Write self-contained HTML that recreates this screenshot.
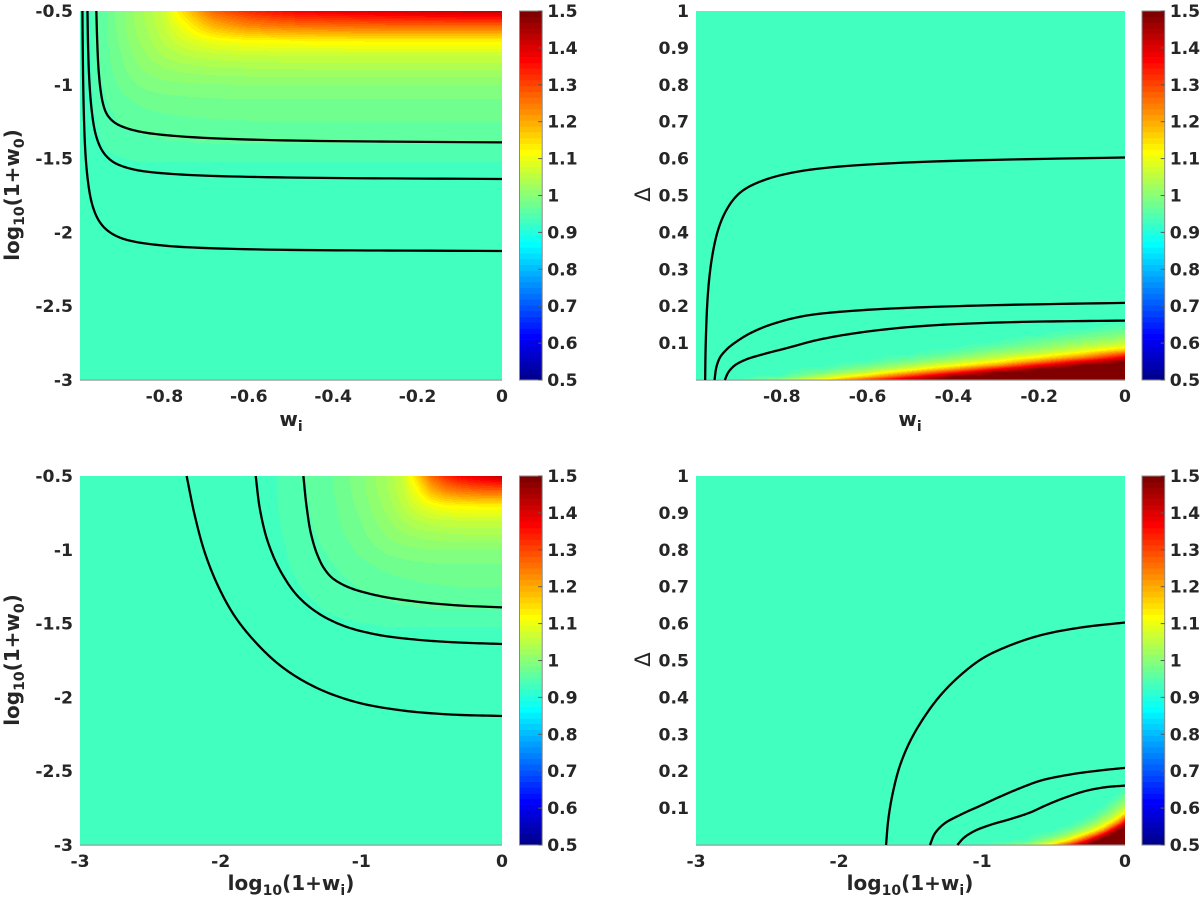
<!DOCTYPE html>
<html lang="en">
<head>
<meta charset="utf-8">
<title>Heatmap panels with contours</title>
<style>
html,body{margin:0;padding:0;background:#fff;}
svg{display:block;}
text{font-family:"DejaVu Sans","Liberation Sans",sans-serif;font-weight:bold;fill:#262626;}
.tick{font-size:17.2px;}
.title{font-size:20px;}
.delta{font-size:21px;font-weight:normal;}
</style>
</head>
<body>
<svg id="figure" xmlns="http://www.w3.org/2000/svg" width="1200" height="904" viewBox="0 0 1200 904">
  <rect x="0" y="0" width="1200" height="904" fill="#fff"/>
  <text class="title" x="291" y="426" text-anchor="middle">w<tspan dy="5" font-size="14">i</tspan></text>
  <text class="title" x="910" y="426" text-anchor="middle">w<tspan dy="5" font-size="14">i</tspan></text>
  <text class="title" x="291" y="890" text-anchor="middle">log<tspan dy="5" font-size="14">10</tspan><tspan dy="-5">(1+w</tspan><tspan dy="5" font-size="14">i</tspan><tspan dy="-5">)</tspan></text>
  <text class="title" x="910" y="890" text-anchor="middle">log<tspan dy="5" font-size="14">10</tspan><tspan dy="-5">(1+w</tspan><tspan dy="5" font-size="14">i</tspan><tspan dy="-5">)</tspan></text>
  <text class="title" transform="translate(19,195) rotate(-90)" text-anchor="middle">log<tspan dy="5" font-size="14">10</tspan><tspan dy="-5">(1+w</tspan><tspan dy="5" font-size="14">0</tspan><tspan dy="-5">)</tspan></text>
  <text class="title" transform="translate(19,660) rotate(-90)" text-anchor="middle">log<tspan dy="5" font-size="14">10</tspan><tspan dy="-5">(1+w</tspan><tspan dy="5" font-size="14">0</tspan><tspan dy="-5">)</tspan></text>
  <text class="delta" transform="translate(650,194.5) rotate(-90)" text-anchor="middle">Δ</text>
  <text class="delta" transform="translate(650,659.5) rotate(-90)" text-anchor="middle">Δ</text>
</svg>
<script>
// ---- Tick labels ----
var wiTicks = [-0.8, -0.6, -0.4, -0.2, 0];
var logWiTicks = [-3, -2, -1, 0];
var logW0Ticks = [-0.5, -1, -1.5, -2, -2.5, -3];
var deltaTicks = [0.1, 0.2, 0.3, 0.4, 0.5, 0.6, 0.7, 0.8, 0.9, 1];
var colorbarTicks = [0.5, 0.6, 0.7, 0.8, 0.9, 1, 1.1, 1.2, 1.3, 1.4, 1.5];

// ---- Heatmap A: value over log10(1+wi) (columns) and log10(1+w0) (rows) ----
var heatALogWi = [-3, -1.8, -1.6, -1.4, -1.2, -1, -0.8, -0.7, -0.6, -0.5, -0.4, -0.3, -0.15, 0];
var heatALogW0 = [-0.5, -0.6, -0.7, -0.8, -0.9, -1, -1.1, -1.2, -1.3, -1.4, -1.5, -1.6, -3];
var heatAValues = [
  [.93,.93,.9375,.953,.969,.995,1.036,1.068,1.16,1.27,1.33,1.37,1.40,1.43],
  [.93,.93,.9375,.952,.968,.994,1.033,1.062,1.115,1.19,1.235,1.255,1.27,1.27],
  [.93,.93,.937,.951,.966,.99,1.025,1.05,1.08,1.105,1.12,1.125,1.13,1.13],
  [.93,.93,.936,.95,.964,.985,1.015,1.033,1.048,1.057,1.062,1.064,1.065,1.065],
  [.93,.93,.935,.948,.961,.98,1.003,1.012,1.02,1.025,1.028,1.03,1.03,1.03],
  [.93,.93,.934,.945,.957,.973,.99,.994,.997,.999,1,1,1,1],
  [.93,.93,.933,.943,.953,.965,.975,.979,.981,.983,.984,.984,.984,.984],
  [.93,.93,.932,.94,.948,.958,.965,.968,.97,.972,.973,.974,.974,.974],
  [.93,.93,.931,.937,.944,.951,.957,.96,.961,.962,.963,.964,.964,.964],
  [.93,.93,.93,.934,.94,.945,.949,.951,.952,.953,.953,.953,.953,.953],
  [.93,.93,.93,.931,.934,.937,.94,.94,.94,.94,.94,.94,.94,.94],
  [.93,.93,.93,.93,.93,.93,.93,.93,.93,.93,.93,.93,.93,.93],
  [.93,.93,.93,.93,.93,.93,.93,.93,.93,.93,.93,.93,.93,.93]
];

// ---- Heatmap B: value over wi (columns) and delta (rows) ----
var heatBWi = [-1, -0.9, -0.8, -0.7, -0.6, -0.5, -0.4, -0.3, -0.2, -0.1, 0];
var heatBDelta = [0, .01, .02, .03, .04, .05, .06, .07, .08, .09, .1, .11, .12, .13, .14, .15, .16, 1];
var heatBValues = [
  [.93,.936,1.017,1.13,1.32,1.47,1.5,1.5,1.5,1.5,1.5],
  [.93,.93,.945,1.047,1.163,1.33,1.49,1.5,1.5,1.5,1.5],
  [.93,.93,.93,.985,1.065,1.2,1.35,1.49,1.5,1.5,1.5],
  [.93,.93,.93,.95,1.01,1.09,1.21,1.36,1.49,1.5,1.5],
  [.93,.93,.93,.93,.97,1.03,1.10,1.21,1.375,1.49,1.5],
  [.93,.93,.93,.93,.94,.987,1.05,1.115,1.24,1.39,1.49],
  [.93,.93,.93,.93,.93,.955,1.0,1.062,1.14,1.25,1.40],
  [.93,.93,.93,.93,.93,.935,.97,1.025,1.07,1.16,1.3],
  [.93,.93,.93,.93,.93,.93,.947,.99,1.03,1.09,1.18],
  [.93,.93,.93,.93,.93,.93,.93,.965,1.0,1.05,1.1],
  [.93,.93,.93,.93,.93,.93,.93,.94,.98,1.02,1.06],
  [.93,.93,.93,.93,.93,.93,.93,.93,.96,.99,1.03],
  [.93,.93,.93,.93,.93,.93,.93,.93,.937,.97,1.0],
  [.93,.93,.93,.93,.93,.93,.93,.93,.93,.95,.98],
  [.93,.93,.93,.93,.93,.93,.93,.93,.93,.93,.96],
  [.93,.93,.93,.93,.93,.93,.93,.93,.93,.93,.943],
  [.93,.93,.93,.93,.93,.93,.93,.93,.93,.93,.93],
  [.93,.93,.93,.93,.93,.93,.93,.93,.93,.93,.93]
];

// ---- Contours: log10(1+wi) with log10(1+w0) ----
var contourA1LogWi = [-1.412,-1.389,-1.353,-1.31,-1.27,-1.21,-1.14,-1.069,-.96,-.855,-.618,-.310,0];
var contourA1LogW0 = [-.5,-.708,-.911,-1.04,-1.118,-1.188,-1.232,-1.262,-1.293,-1.316,-1.350,-1.377,-1.390];
var contourA2LogWi = [-1.751,-1.720,-1.661,-1.566,-1.448,-1.306,-1.140,-.903,-.618,-.310,0];
var contourA2LogW0 = [-.5,-.730,-.956,-1.159,-1.318,-1.430,-1.510,-1.572,-1.608,-1.628,-1.638];
var contourA3LogWi = [-2.242,-2.182,-2.111,-2.016,-1.898,-1.756,-1.566,-1.329,-1.045,-.713,-.381,0];
var contourA3LogW0 = [-.5,-.776,-1.024,-1.250,-1.453,-1.622,-1.792,-1.930,-2.030,-2.088,-2.115,-2.126];

// ---- Contours: log10(1+wi) with delta ----
var contourB1LogWi = [-1.671,-1.655,-1.620,-1.573,-1.503,-1.410,-1.294,-1.154,-.991,-.804,-.594,-.315,0];
var contourB1Delta = [0,.070,.148,.216,.281,.3430,.4040,.4590,.5070,.5410,.5680,.5890,.6030];
var contourB2LogWi = [-1.364,-1.329,-1.270,-1.154,-1.014,-.874,-.734,-.594,-.408,-.198,0];
var contourB2Delta = [0,.0316,.0560,.0813,.1060,.1310,.1540,.1740,.1895,.2010,.2090];
var contourB3LogWi = [-1.172,-1.131,-1.061,-.944,-.804,-.664,-.548,-.408,-.268,-.128,0];
var contourB3Delta = [0,.0181,.0362,.0542,.0700,.0880,.1084,.1300,.1472,.1570,.1610];

var colorMin = 0.5;
var colorMax = 1.5;
var colorLevels = 64;

var NS = 'http://www.w3.org/2000/svg';
var figure = document.getElementById('figure');

function clamp01(v) { return Math.max(0, Math.min(1, v)); }
function jetColor(level) {
  var x = level / colorLevels;
  var r = clamp01(Math.min(4 * x - 1.5, -4 * x + 4.5));
  var g = clamp01(Math.min(4 * x - 0.5, -4 * x + 3.5));
  var b = clamp01(Math.min(4 * x + 0.5, -4 * x + 2.5));
  return 'rgb(' + Math.round(r * 255) + ',' + Math.round(g * 255) + ',' + Math.round(b * 255) + ')';
}
function valueToLevel(v) {
  var i = Math.floor((v - colorMin) / (colorMax - colorMin) * colorLevels) + 1;
  return Math.max(1, Math.min(colorLevels, i));
}
function locate(knots, v) {
  var asc = knots[knots.length - 1] > knots[0];
  var n = knots.length;
  if (asc ? v <= knots[0] : v >= knots[0]) return [0, 0];
  if (asc ? v >= knots[n - 1] : v <= knots[n - 1]) return [n - 2, 1];
  for (var i = 0; i < n - 1; i++) {
    var a = knots[i], b = knots[i + 1];
    if (asc ? (v >= a && v <= b) : (v <= a && v >= b)) return [i, (v - a) / (b - a)];
  }
  return [n - 2, 1];
}
function bilinear(cols, rows, table, cx, ry) {
  var c = locate(cols, cx), r = locate(rows, ry);
  var t0 = table[r[0]], t1 = table[r[0] + 1];
  var top = t0[c[0]] + (t0[c[0] + 1] - t0[c[0]]) * c[1];
  var bot = t1[c[0]] + (t1[c[0] + 1] - t1[c[0]]) * c[1];
  return top + (bot - top) * r[1];
}
function fieldA(logWi, logW0) { return bilinear(heatALogWi, heatALogW0, heatAValues, logWi, logW0); }
function fieldB(wi, delta) { return bilinear(heatBWi, heatBDelta, heatBValues, wi, delta); }
function logWiToWi(l) { return Math.pow(10, l) - 1; }
function wiToLogWi(w) { return Math.max(-3, Math.log10(Math.max(1e-6, 1 + w))); }

function linearAxis(d0, d1, p0, p1) {
  return {
    scale: function (d) { return p0 + (d - d0) / (d1 - d0) * (p1 - p0); },
    invert: function (p) { return d0 + (p - p0) / (p1 - p0) * (d1 - d0); }
  };
}
function addText(parent, x, y, anchor, str) {
  var t = document.createElementNS(NS, 'text');
  t.setAttribute('x', x);
  t.setAttribute('y', y);
  t.setAttribute('text-anchor', anchor);
  t.setAttribute('class', 'tick');
  t.textContent = str;
  parent.appendChild(t);
  return t;
}
function addRect(parent, x, y, w, h, fill) {
  var r = document.createElementNS(NS, 'rect');
  r.setAttribute('x', x);
  r.setAttribute('y', y);
  r.setAttribute('width', w);
  r.setAttribute('height', h);
  r.setAttribute('fill', fill);
  parent.appendChild(r);
  return r;
}
// Non-uniform (chord-length) cubic Hermite smoothing in data space
function smooth(xs, ys, sx, sy, steps) {
  var n = xs.length, d = [], i;
  for (i = 0; i < n - 1; i++) {
    var ax = (xs[i + 1] - xs[i]) / sx, ay = (ys[i + 1] - ys[i]) / sy;
    d.push(Math.max(1e-6, Math.sqrt(ax * ax + ay * ay)));
  }
  var mx = [], my = [];
  for (i = 0; i < n; i++) {
    if (i === 0) {
      mx.push((xs[1] - xs[0]) / d[0]);
      my.push((ys[1] - ys[0]) / d[0]);
    } else if (i === n - 1) {
      mx.push((xs[n - 1] - xs[n - 2]) / d[n - 2]);
      my.push((ys[n - 1] - ys[n - 2]) / d[n - 2]);
    } else {
      var w = d[i - 1] + d[i];
      mx.push(((xs[i] - xs[i - 1]) / d[i - 1] * d[i] + (xs[i + 1] - xs[i]) / d[i] * d[i - 1]) / w);
      my.push(((ys[i] - ys[i - 1]) / d[i - 1] * d[i] + (ys[i + 1] - ys[i]) / d[i] * d[i - 1]) / w);
    }
  }
  var out = [];
  for (i = 0; i < n - 1; i++) {
    for (var s = 0; s < steps; s++) {
      var t = s / steps, t2 = t * t, t3 = t2 * t;
      var h00 = 2 * t3 - 3 * t2 + 1, h10 = t3 - 2 * t2 + t, h01 = -2 * t3 + 3 * t2, h11 = t3 - t2;
      out.push([
        h00 * xs[i] + h10 * d[i] * mx[i] + h01 * xs[i + 1] + h11 * d[i] * mx[i + 1],
        h00 * ys[i] + h10 * d[i] * my[i] + h01 * ys[i + 1] + h11 * d[i] * my[i + 1]
      ]);
    }
  }
  out.push([xs[n - 1], ys[n - 1]]);
  return out;
}

var panelDefs = [
  { id: 'top-left', x0: 80, x1: 502, y0: 11, y1: 380, cb: 519.5, logX: false, kind: 'A' },
  { id: 'top-right', x0: 696, x1: 1125, y0: 11, y1: 380, cb: 1142, logX: false, kind: 'B' },
  { id: 'bottom-left', x0: 80, x1: 502, y0: 476, y1: 845, cb: 519.5, logX: true, kind: 'A' },
  { id: 'bottom-right', x0: 696, x1: 1125, y0: 476, y1: 845, cb: 1142, logX: true, kind: 'B' }
];

panelDefs.forEach(function (p) {
  var g = document.createElementNS(NS, 'g');
  
  
  figure.appendChild(g);

  var xAxis = p.logX ? linearAxis(-3, 0, p.x0, p.x1) : linearAxis(-1, 0, p.x0, p.x1);
  var yAxis = p.kind === 'A' ? linearAxis(-0.5, -3, p.y0, p.y1) : linearAxis(1, 0, p.y0, p.y1);

  // heatmap
  var heat = document.createElementNS(NS, 'g');
  
  
  heat.setAttribute('shape-rendering', 'crispEdges');
  g.appendChild(heat);
  var baseLevel = valueToLevel(p.kind === 'A' ? heatAValues[heatAValues.length - 1][0] : heatBValues[heatBValues.length - 1][0]);
  var base = addRect(heat, p.x0, p.y0, p.x1 - p.x0, p.y1 - p.y0, jetColor(baseLevel));
  
  

  for (var py = p.y0; py < p.y1; py++) {
    var ry = yAxis.invert(py + 0.5);
    var runStart = p.x0, runLevel = -1;
    for (var px = p.x0; px <= p.x1; px++) {
      var level = -2;
      if (px < p.x1) {
        var dx = xAxis.invert(px + 0.5);
        var v;
        if (p.kind === 'A') {
          v = fieldA(p.logX ? dx : wiToLogWi(dx), ry);
        } else {
          v = fieldB(p.logX ? logWiToWi(dx) : dx, ry);
        }
        level = valueToLevel(v);
      }
      if (level !== runLevel) {
        if (runLevel > 0 && runLevel !== baseLevel) {
          var cell = addRect(heat, runStart, py, px - runStart, 1, jetColor(runLevel));
          
          
        }
        runStart = px;
        runLevel = level;
      }
    }
  }

  // axis line
  var bottomLine = addRect(g, p.x0, p.y1 - 0.5, p.x1 - p.x0, 1.2, '#9a9a9a');
  
  

  // contours
  var sets = p.kind === 'A'
    ? [[contourA1LogWi, contourA1LogW0], [contourA2LogWi, contourA2LogW0], [contourA3LogWi, contourA3LogW0]]
    : [[contourB1LogWi, contourB1Delta], [contourB2LogWi, contourB2Delta], [contourB3LogWi, contourB3Delta]];
  var spanY = p.kind === 'A' ? 2.5 : 1;
  sets.forEach(function (s) {
    var pts = smooth(s[0], s[1], 3, spanY, 14).map(function (q) {
      var xv = p.logX ? q[0] : logWiToWi(q[0]);
      return xAxis.scale(xv).toFixed(2) + ',' + yAxis.scale(q[1]).toFixed(2);
    });
    var line = document.createElementNS(NS, 'polyline');
    line.setAttribute('points', pts.join(' '));
    line.setAttribute('fill', 'none');
    line.setAttribute('stroke', '#000');
    line.setAttribute('stroke-width', '2.3');
    line.setAttribute('stroke-linejoin', 'round');
    
    
    g.appendChild(line);
  });

  // x tick labels
  (p.logX ? logWiTicks : wiTicks).forEach(function (t) {
    var lab = addText(g, xAxis.scale(t), p.y1 + 22, 'middle', String(t));
    
    
  });
  // y tick labels
  (p.kind === 'A' ? logW0Ticks : deltaTicks).forEach(function (t) {
    var lab = addText(g, p.x0 - 7, yAxis.scale(t) + 6, 'end', String(t));
    
    
  });

  // colorbar
  var cbW = 22.7;
  var cbAxis = linearAxis(colorMin, colorMax, p.y1, p.y0);
  var cb = document.createElementNS(NS, 'g');
  
  
  g.appendChild(cb);
  for (var i = 1; i <= colorLevels; i++) {
    var vLow = colorMin + (i - 1) / colorLevels * (colorMax - colorMin);
    var vHigh = colorMin + i / colorLevels * (colorMax - colorMin);
    var band = addRect(cb, p.cb, cbAxis.scale(vHigh), cbW, cbAxis.scale(vLow) - cbAxis.scale(vHigh) + 0.3, jetColor(i));
    
    
  }
  var outline = document.createElementNS(NS, 'rect');
  outline.setAttribute('x', p.cb);
  outline.setAttribute('y', p.y0);
  outline.setAttribute('width', cbW);
  outline.setAttribute('height', p.y1 - p.y0);
  outline.setAttribute('fill', 'none');
  outline.setAttribute('stroke', '#8a8a8a');
  outline.setAttribute('stroke-width', '1');
  
  
  cb.appendChild(outline);
  colorbarTicks.forEach(function (t) {
    var ty = cbAxis.scale(t);
    var mark = addRect(cb, p.cb + cbW - 4, ty - 0.5, 4, 1, '#5a5a5a');
    
    
    var lab = addText(cb, p.cb + cbW + 5, ty + 6, 'start', String(t));
    
    
  });
});
</script>
</body>
</html>
